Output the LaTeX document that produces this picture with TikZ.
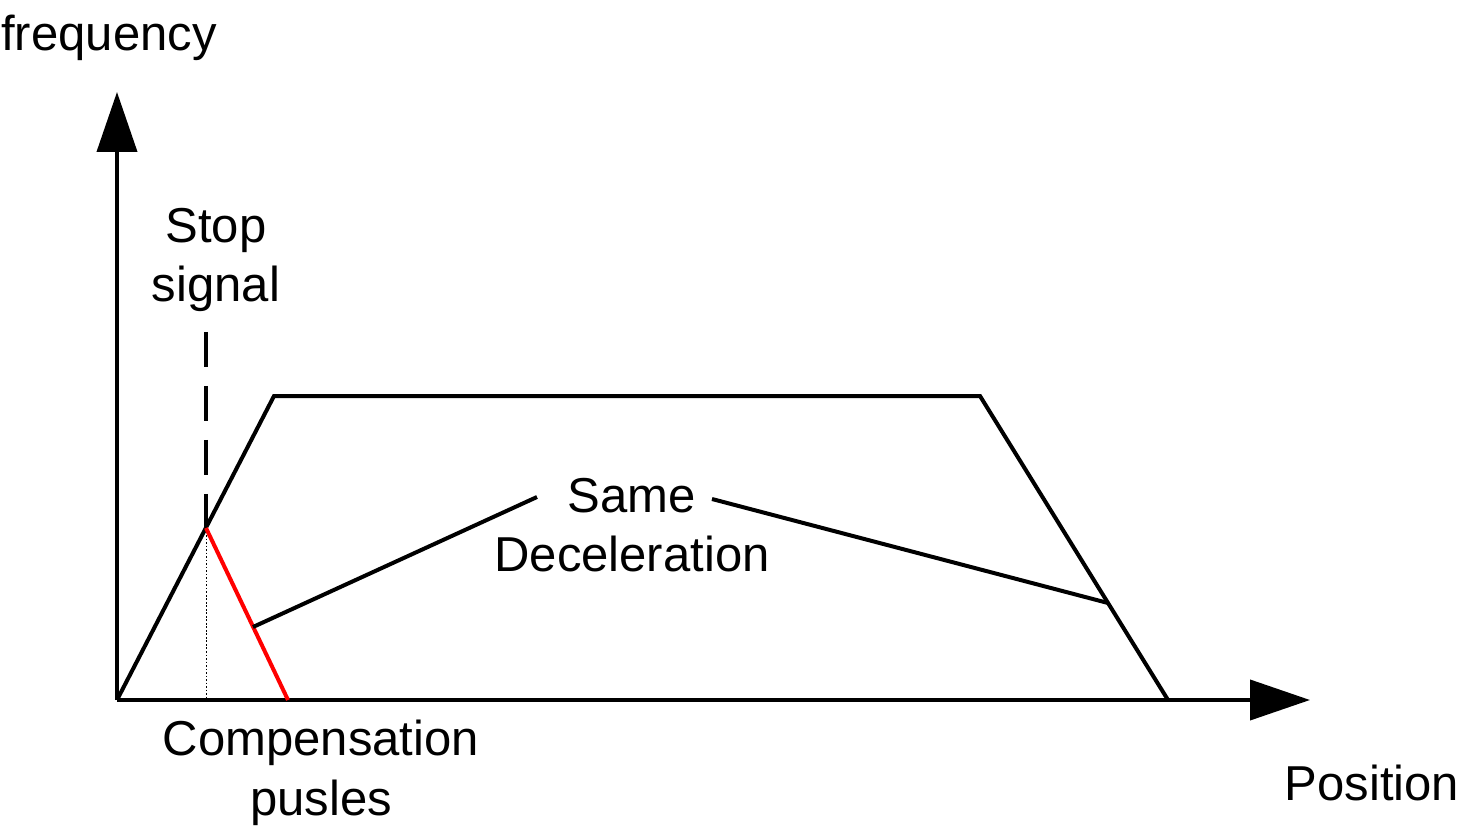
\documentclass[tikz,border=0pt]{standalone}
\usepackage{fontspec}
\setmainfont{Liberation Sans}
\usetikzlibrary{arrows.meta, positioning}
\tikzstyle{every node}=[font=\fontsize{27.9}{34}\selectfont]
\tikzset{AxisStyle/.style = {
			      line width     = 0.08cm,
			      -{Triangle[length=1.2cm,width=0.8cm]}}
						}
\tikzset{EdgeStyle/.style   = {line width=0.08cm, line join=miter}}
\tikzset{CompStyle/.style   = {EdgeStyle, red}}
\tikzset{StopStyle/.style   = {line width=0.08cm, dash pattern=on 0.7cm off 0.38cm}}
\tikzset{DropStyle/.style   = {line width=0.4pt, dash pattern=on 1pt off 1pt}}
\tikzset{LabelStyle/.style =   {
				  text           = black,
				  inner sep      = 0pt,
				  outer sep      = 0pt,
				  align          = center}
					}

\begin{document}
\begin{tikzpicture}[x=0.02cm,y=-0.02cm]
							\useasboundingbox (0,0) rectangle (1463,834);
							\coordinate (O)    at (117,700);
							\coordinate (Ytip) at (117,92);
							\coordinate (Xtip) at (1310,700);
							\coordinate (A)    at (274,396);
							\coordinate (B)    at (980,396);
							\coordinate (C)    at (1168,700);
							\coordinate (S)    at (206,528);
							\coordinate (Stop) at (206,332);
							\coordinate (Sx)   at (206,700);
							\coordinate (R)    at (288,700);
							\coordinate (P)    at (253,627);
							\coordinate (Pl)   at (537,497);
							\coordinate (Q)    at (1108,603);
							\coordinate (Qr)   at (712,499);

							\node[LabelStyle] (Freq) at (109,38)  {frequency};
							\node[LabelStyle] (Sig)  at (216,260) {Stop\\signal};
							\node[LabelStyle] (Dec)  at (632,525) {Same\\Deceleration};
							\node[LabelStyle] (Comp) at (321,773) {Compensation\\pusles};
							\node[LabelStyle] (Pos)  at (1372,783) {Position};

							\draw[AxisStyle] (O) -- (Ytip);
							\draw[AxisStyle] (O) -- (Xtip);
							\draw[EdgeStyle] (O) -- (A) -- (B) -- (C);
							\draw[StopStyle] (Stop) -- (S);
							\draw[DropStyle] (S) -- (Sx);
							\draw[CompStyle] (S) -- (R);
							\draw[EdgeStyle] (P) -- (Pl);
							\draw[EdgeStyle] (Qr) -- (Q);

					\end{tikzpicture}
\end{document}
